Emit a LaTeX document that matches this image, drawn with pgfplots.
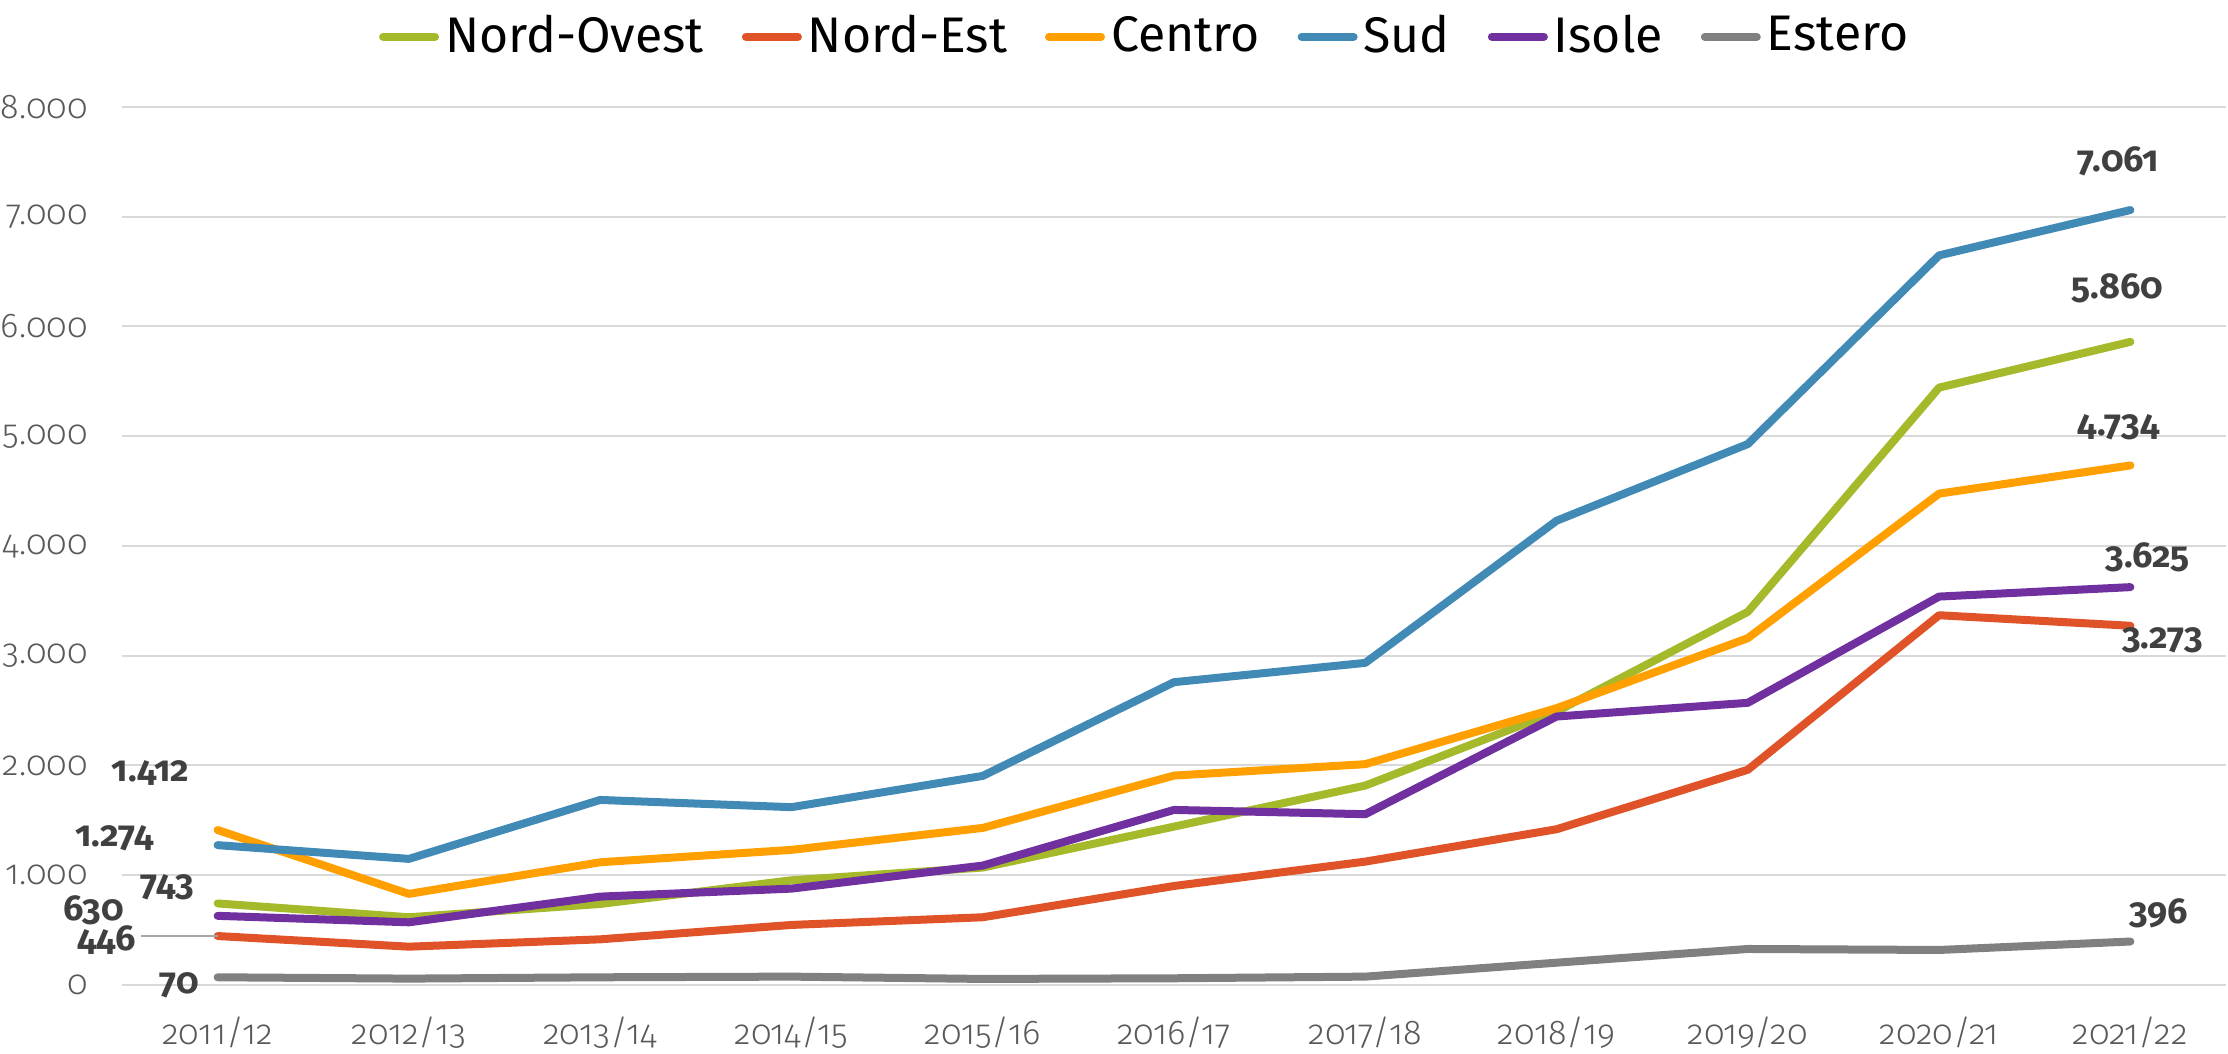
\documentclass[border=0pt]{standalone}
\usepackage{pgfplots}
\pgfplotsset{compat=1.18}
\usepackage{fontspec}
\setmainfont{Fira Sans}[Numbers=OldStyle]
\newfontfamily\tickfont{Fira Sans Light}[Numbers=OldStyle]
\usetikzlibrary{calc}
\definecolor{cNO}{HTML}{A5B92A}
\definecolor{cNE}{HTML}{E05329}
\definecolor{cCE}{HTML}{FFA000}
\definecolor{cSU}{HTML}{418AB5}
\definecolor{cIS}{HTML}{7030A0}
\definecolor{cES}{HTML}{808080}
\definecolor{cGrid}{HTML}{D9D9D9}
\definecolor{cTick}{HTML}{595959}
\definecolor{cLbl}{HTML}{404040}
\tikzset{lbl/.style={font=\bfseries\fontsize{9}{10}\selectfont, text=cLbl}}
\begin{document}
\begin{tikzpicture}
\begin{axis}[name=ax, scale only axis, width=526pt, height=219.5pt,
 xmin=-0.5, xmax=10.5, ymin=0, ymax=8000,
 xtick={0,...,10},
 xticklabels={2011/12,2012/13,2013/14,2014/15,2015/16,2016/17,2017/18,2018/19,2019/20,2020/21,2021/22},
 ytick={0,1000,...,8000},
 ymajorgrids, grid style={cGrid, line width=0.5pt},
 axis line style={draw=none}, major tick length=0pt,
 tick label style={font=\tickfont\fontsize{8.6}{10}\selectfont, text=cTick},
 /pgf/number format/assume math mode=true,
 /pgf/number format/1000 sep={.},
 yticklabel style={xshift=-5pt},
 xticklabel style={yshift=-4.5pt},
 clip=false,
 legend columns=6,
 legend style={at={(0.487,1.08)}, anchor=center, draw=none, fill=none,
   font=\fontsize{12.5}{14}\selectfont,
   nodes={inner xsep=1.5pt},
   /tikz/every even column/.append style={column sep=8pt}},
 legend image code/.code={\draw[#1, line width=2pt, line cap=round] (0pt,0pt) -- (13pt,0pt);},
 every axis plot/.append style={line width=2pt, line join=round, line cap=round},
]
\addplot[cNO] coordinates {(0,743) (1,617) (2,738) (3,954) (4,1070) (5,1443) (6,1817) (7,2491) (8,3400) (9,5443) (10,5860)}
  node[pos=0, lbl, xshift=-12.5pt, yshift=4pt] {743}
  node[pos=1, lbl, xshift=-3.25pt, yshift=13.5pt] {5.860};
\addplot[cNE] coordinates {(0,446) (1,349) (2,416) (3,547) (4,617) (5,902) (6,1124) (7,1419) (8,1961) (9,3369) (10,3273)}
  node[pos=0, lbl, xshift=-27.75pt, yshift=-1pt] {446}
  node[pos=1, lbl, xshift=8pt, yshift=-3.75pt] {3.273};
\addplot[cCE] coordinates {(0,1412) (1,830) (2,1118) (3,1231) (4,1431) (5,1908) (6,2012) (7,2522) (8,3160) (9,4477) (10,4734)}
  node[pos=0, lbl, xshift=-16.75pt, yshift=14.25pt] {1.412}
  node[pos=1, lbl, xshift=-3pt, yshift=9.5pt] {4.734};
\addplot[cSU] coordinates {(0,1274) (1,1149) (2,1686) (3,1620) (4,1905) (5,2759) (6,2935) (7,4230) (8,4929) (9,6648) (10,7061)}
  node[pos=0, lbl, xshift=-25.75pt, yshift=1.75pt] {1.274}
  node[pos=1, lbl, xshift=-3pt, yshift=12.25pt] {7.061};
\addplot[cIS] coordinates {(0,630) (1,571) (2,805) (3,878) (4,1088) (5,1595) (6,1556) (7,2446) (8,2571) (9,3539) (10,3625)}
  node[pos=0, lbl, xshift=-31pt, yshift=1.5pt] {630}
  node[pos=1, lbl, xshift=4.25pt, yshift=7.4pt] {3.625};
\addplot[cES] coordinates {(0,70) (1,58) (2,70) (3,76) (4,55) (5,61) (6,76) (7,203) (8,328) (9,319) (10,396)}
  node[pos=0, lbl, xshift=-9.5pt, yshift=-2pt] {70}
  node[pos=1, lbl, xshift=7pt, yshift=7.1pt] {396};
\draw[black!35, line width=0.4pt] (axis cs:-0.40,446) -- (axis cs:0,446);
\legend{Nord-Ovest, Nord-Est, Centro, Sud, Isole, Estero}
\end{axis}
\pgfresetboundingbox
\path ($(ax.south west)+(-30.5pt,-17.25pt)$) rectangle ($(ax.north east)+(0.5pt,26.75pt)$);
\end{tikzpicture}
\end{document}
